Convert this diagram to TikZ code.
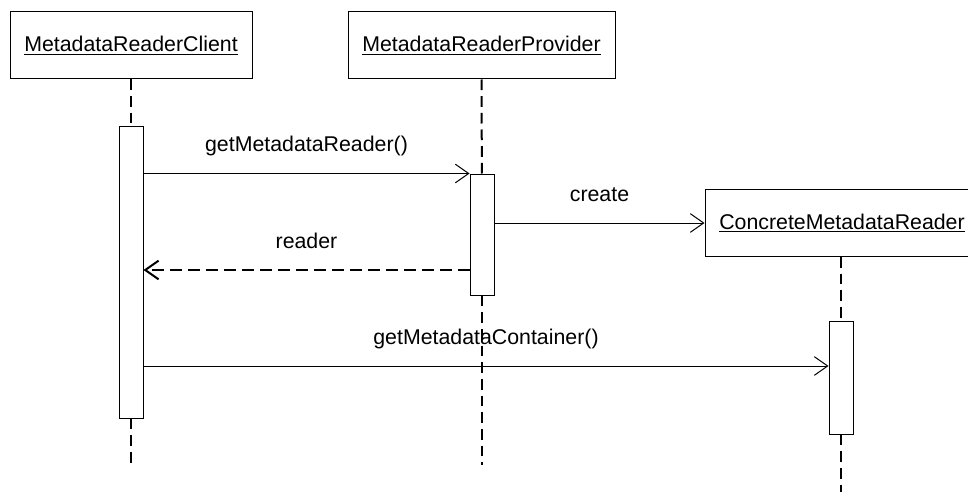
\documentclass[tikz,border=0pt]{standalone}
\usepackage{fontspec}
\setmainfont{Liberation Sans}
\usetikzlibrary{arrows.meta}

\begin{document}
\begin{tikzpicture}[x=0.75pt,y=-0.75pt,line width=0.75pt,>={Straight Barb[length=10pt,width=14pt]}]
    \tikzstyle{object}=[draw,rectangle,minimum height=50.25pt,inner sep=0pt,font=\fontsize{16pt}{19pt}\selectfont]
    \tikzstyle{activation}=[draw,fill=white,rectangle,minimum width=18pt,inner sep=0pt]
    \tikzstyle{lifeline}=[line width=1.5pt,dash pattern=on 8pt off 4.5pt]
    \tikzstyle{call}=[->]
    \tikzstyle{reply}=[->,line width=1.5pt,dash pattern=on 9pt off 4.5pt]
    \tikzstyle{msg label}=[midway,anchor=base,yshift=16.2pt,inner sep=0pt,font=\fontsize{16pt}{19pt}\selectfont]

    \useasboundingbox (0,0) rectangle (968,492);

    % Draw the objects
    \node[object,minimum width=181.5pt] (client) at (131,45.5) {\underline{MetadataReaderClient}};
    \node[object,minimum width=200.25pt] (provider) at (481.5,45.5) {\underline{MetadataReaderProvider}};
    \node[object,minimum width=205.5pt] (concrete) at (842,223) {\underline{ConcreteMetadataReader}};

    % Activation bars
    \node[activation,minimum height=218.25pt] (cact) at (131,272.5) {};
    \node[activation,minimum height=90.75pt] (pact) at (482,234.5) {};
    \node[activation,minimum height=84.75pt] (kact) at (841,377.5) {};

    % Lifelines
    \coordinate (cend) at (131,465);
    \coordinate (pend) at (482,465);
    \coordinate (kend) at (841,492);
    \draw[lifeline] (client) -- (cact);
    \draw[lifeline] (cact.south) -- (cend);
    \draw[lifeline] (provider) -- (pact);
    \draw[lifeline] (pact.south) -- (pend);
    \draw[lifeline] (concrete.south -| kact.north) -- (kact);
    \draw[lifeline] (kact.south) -- (kend);

    % Messages
    \draw[call] (cact.east |- pact.north) -- node[msg label] {getMetadataReader()} (pact.north west);
    \draw[call] (pact.east |- concrete.west) -- node[msg label] {create} (concrete.west);
    \draw[reply] (pact.west |- 0,270) -- node[msg label] {reader} (cact.east |- 0,270);
    \draw[call] (cact.east |- 0,366) -- node[msg label] {getMetadataContainer()} (kact.west |- 0,366);
\end{tikzpicture}
\end{document}
